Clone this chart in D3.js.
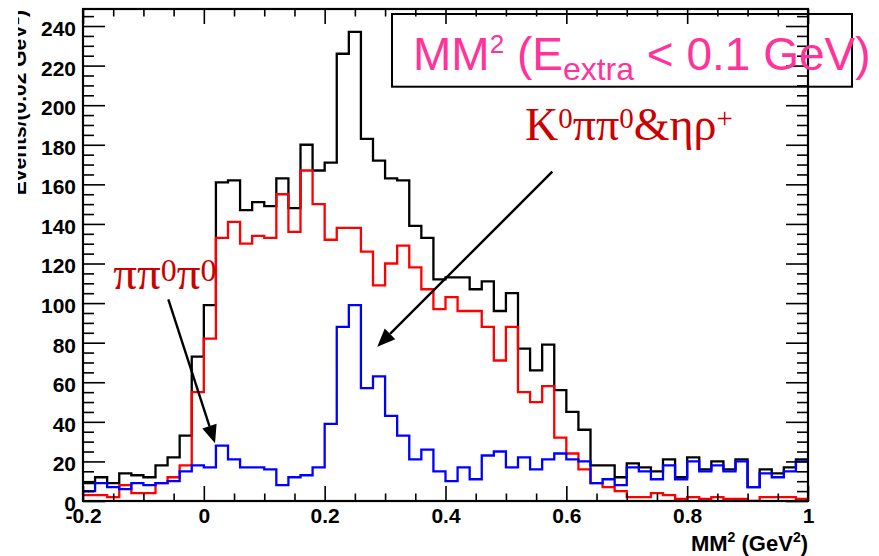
<!DOCTYPE html>
<html>
<head>
<meta charset="utf-8">
<script src="https://cdn.jsdelivr.net/npm/d3@7"></script>
<style>
  html, body { margin: 0; padding: 0; background: #fff; }
  svg { display: block; }
</style>
</head>
<body>
<svg id="chart" width="879" height="556"></svg>
<script>
// Histogram binning: 60 bins of 0.02 GeV^2 from -0.2 to 1.0
const xMin = -0.2, xMax = 1.0, binWidth = 0.02;

// Bin contents, one value per bin
const totalCounts = [
   9, 12,  9, 14, 13, 12, 18, 22, 33, 73,
  99,161,162,147,151,149,163,148,180,167,
 171,226,237,183,172,163,162,139,133,112,
 113,113,107,111, 96,105, 77, 66, 79, 56,
  45, 36, 18, 18, 12, 19, 17, 15, 21, 12,
  22, 16, 20, 16, 21,  7, 16, 14, 17, 21
];
const redCounts = [
   3,  3,  2,  8,  4,  4,  9, 12, 18, 55,
  82,133,141,130,134,133,155,136,167,150,
 132,138,138,126,109,120,129,118,107, 97,
 103, 96, 96, 88, 71, 88, 55, 50, 58, 32,
  24, 16,  9,  7,  5,  2,  2,  4,  3,  1,
   2,  1,  2,  1,  1,  0,  2,  2,  2,  1
];
const blueCounts = [
   5,  9,  7,  6,  9,  8,  9, 10, 15, 18,
  17, 28, 21, 17, 17, 16,  8, 12, 13, 17,
  39, 88, 99, 57, 63, 43, 33, 21, 26, 15,
  10, 17, 11, 23, 25, 17, 22, 16, 21, 24,
  21, 20,  9, 11,  8, 17, 15, 11, 18, 11,
  20, 15, 18, 15, 20,  7, 14, 12, 15, 20
];

// Axis ticks and labels
const xMajorTicks = [-0.2, 0, 0.2, 0.4, 0.6, 0.8, 1.0];
const xTickLabels = ["-0.2", "0", "0.2", "0.4", "0.6", "0.8", "1"];
const yMajorTicks = [0, 20, 40, 60, 80, 100, 120, 140, 160, 180, 200, 220, 240];
const yTickLabels = ["0", "20", "40", "60", "80", "100", "120", "140", "160", "180", "200", "220", "240"];
const yMax = 248.6;

const svg = d3.select("#chart");
const frame = { left: 83, right: 808, top: 9, bottom: 501 };

const x = d3.scaleLinear().domain([xMin, xMax]).range([frame.left, frame.right]);
const y = d3.scaleLinear().domain([0, yMax]).range([frame.bottom, frame.top]);

const sansBold = "'Liberation Sans', Arial, Helvetica, sans-serif";
const serif = "'Liberation Serif', 'Times New Roman', serif";

// Clip region for the histogram lines
svg.append("defs").append("clipPath").attr("id", "plotClip")
  .append("rect")
  .attr("x", frame.left).attr("y", frame.top)
  .attr("width", frame.right - frame.left).attr("height", frame.bottom - frame.top);

svg.select("defs").append("clipPath").attr("id", "titleClip")
  .append("rect").attr("x", 18).attr("y", 0).attr("width", 60).attr("height", 556);

// Step outline of a histogram
function stepPoints(counts) {
  const pts = counts.map((c, i) => [xMin + i * binWidth, c]);
  pts.push([xMax, counts[counts.length - 1]]);
  return pts;
}
const stepLine = d3.line()
  .x(d => x(d[0]))
  .y(d => y(d[1]))
  .curve(d3.curveStepAfter);

const hists = [
  { counts: totalCounts, color: "#000000" },
  { counts: redCounts,   color: "#ff0000" },
  { counts: blueCounts,  color: "#0000ff" }
];

const gHist = svg.append("g").attr("clip-path", "url(#plotClip)");
hists.forEach(h => {
  gHist.append("path")
    .datum(stepPoints(h.counts))
    .attr("d", stepLine)
    .attr("fill", "none")
    .attr("stroke", h.color)
    .attr("stroke-width", 2.3);
});

// Axes: major and minor ticks on all four sides, pointing inward
const xMinorTicks = d3.range(-0.2, 1.0001, 0.05).filter(v => !xMajorTicks.some(m => Math.abs(m - v) < 1e-6));
const yMinorTicks = d3.range(0, yMax, 5).filter(v => v % 20 !== 0);

function styleAxis(g) {
  g.select(".domain").remove();
  g.selectAll(".tick line").attr("stroke", "#000").attr("stroke-width", 1.6);
  g.selectAll(".tick text")
    .attr("fill", "#000")
    .style("font-family", sansBold)
    .style("font-weight", "bold")
    .style("font-size", "21px");
}

// bottom
svg.append("g").attr("transform", `translate(0,${frame.bottom})`)
  .call(d3.axisBottom(x).tickValues(xMajorTicks).tickSizeInner(-15).tickSizeOuter(0).tickPadding(7)
    .tickFormat((d, i) => xTickLabels[i]))
  .call(styleAxis);
svg.append("g").attr("transform", `translate(0,${frame.bottom})`)
  .call(d3.axisBottom(x).tickValues(xMinorTicks).tickSizeInner(-7.5).tickSizeOuter(0).tickFormat(""))
  .call(styleAxis);
// top
svg.append("g").attr("transform", `translate(0,${frame.top})`)
  .call(d3.axisTop(x).tickValues(xMajorTicks).tickSizeInner(-15).tickSizeOuter(0).tickFormat(""))
  .call(styleAxis);
svg.append("g").attr("transform", `translate(0,${frame.top})`)
  .call(d3.axisTop(x).tickValues(xMinorTicks).tickSizeInner(-7.5).tickSizeOuter(0).tickFormat(""))
  .call(styleAxis);
// left
const gLeft = svg.append("g").attr("transform", `translate(${frame.left},0)`)
  .call(d3.axisLeft(y).tickValues(yMajorTicks).tickSizeInner(-22).tickSizeOuter(0).tickPadding(7)
    .tickFormat((d, i) => yTickLabels[i]))
  .call(styleAxis);
gLeft.selectAll(".tick text").attr("dy", "0.45em");
svg.append("g").attr("transform", `translate(${frame.left},0)`)
  .call(d3.axisLeft(y).tickValues(yMinorTicks).tickSizeInner(-11).tickSizeOuter(0).tickFormat(""))
  .call(styleAxis);
// right
svg.append("g").attr("transform", `translate(${frame.right},0)`)
  .call(d3.axisRight(y).tickValues(yMajorTicks).tickSizeInner(-22).tickSizeOuter(0).tickFormat(""))
  .call(styleAxis);
svg.append("g").attr("transform", `translate(${frame.right},0)`)
  .call(d3.axisRight(y).tickValues(yMinorTicks).tickSizeInner(-11).tickSizeOuter(0).tickFormat(""))
  .call(styleAxis);

// Frame
svg.append("rect")
  .attr("x", frame.left).attr("y", frame.top)
  .attr("width", frame.right - frame.left).attr("height", frame.bottom - frame.top)
  .attr("fill", "none").attr("stroke", "#000").attr("stroke-width", 2.2);

// X axis title
const xTitle = svg.append("text")
  .attr("x", frame.right).attr("y", 551)
  .attr("text-anchor", "end")
  .style("font-family", sansBold).style("font-weight", "bold").style("font-size", "22px")
  .attr("fill", "#000");
xTitle.append("tspan").text("MM");
xTitle.append("tspan").attr("dy", -9).style("font-size", "14px").text("2");
xTitle.append("tspan").attr("dy", 9).text(" (GeV");
xTitle.append("tspan").attr("dy", -9).style("font-size", "14px").text("2");
xTitle.append("tspan").attr("dy", 9).text(")");

// Y axis title (runs off the left edge of the canvas)
const yTitle = svg.append("g").attr("clip-path", "url(#titleClip)")
  .append("text")
  .attr("transform", "translate(26,10) rotate(-90)")
  .attr("text-anchor", "end")
  .style("font-family", sansBold).style("font-weight", "bold").style("font-size", "21px")
  .attr("fill", "#000");
yTitle.append("tspan").text("Events/(0.02 GeV");
yTitle.append("tspan").attr("dy", -7).style("font-size", "14px").text("2");
yTitle.append("tspan").attr("dy", 7).text(")");

// Legend box
svg.append("rect")
  .attr("x", 392).attr("y", 14).attr("width", 460).attr("height", 72.7)
  .attr("fill", "none").attr("stroke", "#000").attr("stroke-width", 2);
const leg = svg.append("text")
  .attr("x", 413).attr("y", 70)
  .style("font-family", "'Liberation Sans', Arial, Helvetica, sans-serif").style("font-size", "46px")
  .attr("fill", "#ff3399");
leg.append("tspan").text("MM");
leg.append("tspan").attr("dy", -17).style("font-size", "26px").text("2");
leg.append("tspan").attr("dy", 17).text(" (E");
leg.append("tspan").attr("dy", 10).style("font-size", "32px").text("extra");
leg.append("tspan").attr("dy", -10).text(" < 0.1 GeV)");

// Annotation labels
const labelPi = svg.append("text")
  .attr("x", x(-0.150)).attr("y", y(107.1))
  .style("font-family", serif).style("font-size", "47px")
  .attr("fill", "#cc0000");
labelPi.append("tspan").text("\u03c0\u03c0");
labelPi.append("tspan").attr("dy", -8).style("font-size", "32px").text("0");
labelPi.append("tspan").attr("dy", 8).text("\u03c0");
labelPi.append("tspan").attr("dy", -8).style("font-size", "32px").text("0");

const labelK = svg.append("text")
  .attr("x", x(0.5316)).attr("y", y(182.4))
  .style("font-family", serif).style("font-size", "46px")
  .attr("fill", "#cc0000");
labelK.append("tspan").text("K");
labelK.append("tspan").attr("dy", -12).style("font-size", "29px").text("0");
labelK.append("tspan").attr("dy", 12).text("\u03c0\u03c0");
labelK.append("tspan").attr("dy", -12).style("font-size", "29px").text("0");
labelK.append("tspan").attr("dy", 12).text("&\u03b7\u03c1");
labelK.append("tspan").attr("dy", -12).style("font-size", "29px").text("+");

// Arrows
const arrows = [
  { from: [-0.0588, 101.9], to: [0.0185, 29.2] },
  { from: [0.5768, 166.4], to: [0.2871, 78.0] }
];
arrows.forEach(a => {
  const x0 = x(a.from[0]), y0 = y(a.from[1]);
  const x1 = x(a.to[0]), y1 = y(a.to[1]);
  const ang = Math.atan2(y1 - y0, x1 - x0);
  const headLen = 18, headHalf = 7.5;
  const bx = x1 - headLen * Math.cos(ang), by = y1 - headLen * Math.sin(ang);
  svg.append("line")
    .attr("x1", x0).attr("y1", y0).attr("x2", bx).attr("y2", by)
    .attr("stroke", "#000").attr("stroke-width", 2.4);
  const px = -Math.sin(ang), py = Math.cos(ang);
  svg.append("path")
    .attr("d", `M${x1},${y1}L${bx + headHalf * px},${by + headHalf * py}L${bx - headHalf * px},${by - headHalf * py}Z`)
    .attr("fill", "#000");
});
</script>
</body>
</html>
